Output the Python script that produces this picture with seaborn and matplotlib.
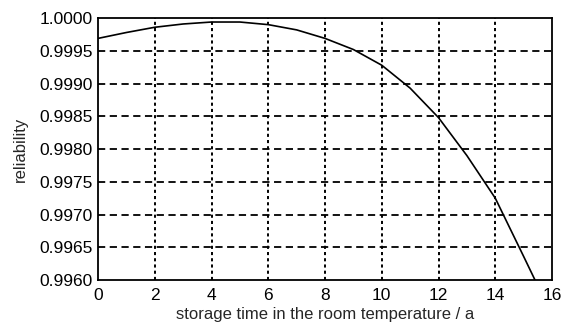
import numpy as np
import pandas as pd
import matplotlib
matplotlib.use("Agg")
import matplotlib.pyplot as plt
import seaborn as sns

# values
years = [0, 1, 2, 3, 4, 5, 6, 7, 8, 9, 10, 11, 12, 13, 14, 15, 15.4]
reliability = [0.99969, 0.99978, 0.99986, 0.99991, 0.99994, 0.99994, 0.99990,
               0.99982, 0.99969, 0.99952, 0.99928, 0.99893, 0.99848, 0.99790,
               0.99725, 0.99636, 0.99600]

x_ticks = [0, 2, 4, 6, 8, 10, 12, 14, 16]
y_ticks = [0.9960, 0.9965, 0.9970, 0.9975, 0.9980, 0.9985, 0.9990, 0.9995, 1.0000]

df = pd.DataFrame({"t": years, "r": reliability})

sns.set_style("white")
plt.rcParams["font.family"] = ["Liberation Sans", "DejaVu Sans"]

fig = plt.figure(figsize=(5.65, 3.29), dpi=100)
ax = fig.add_axes([0.1735, 0.149, 0.8035, 0.796])

sns.lineplot(data=df, x="t", y="r", color="black", linewidth=1.2, ax=ax)

ax.set_xlim(0, 16)
ax.set_ylim(0.9960, 1.0000)
ax.set_xticks(x_ticks)
ax.set_yticks(y_ticks)
ax.set_yticklabels([f"{v:.4f}" for v in y_ticks])

# dashed black grid like the original
for v in x_ticks[1:-1]:
    ax.axvline(v, color="black", linestyle=(0, (1.6, 1.6)), linewidth=1.4, zorder=0)
for v in y_ticks[1:-1]:
    ax.axhline(v, color="black", linestyle=(0, (4, 2.5)), linewidth=1.3, zorder=0)

for s in ax.spines.values():
    s.set_color("black")
    s.set_linewidth(1.3)

ax.tick_params(direction="in", length=3, labelsize=12.5, colors="black")
ax.tick_params(axis="x", pad=6)
ax.tick_params(axis="y", pad=4)
ax.set_xlabel("storage time in the room temperature / a", fontsize=12, labelpad=3)
ax.set_ylabel("reliability", fontsize=12, labelpad=8)

fig.savefig("out.png", dpi=100)
